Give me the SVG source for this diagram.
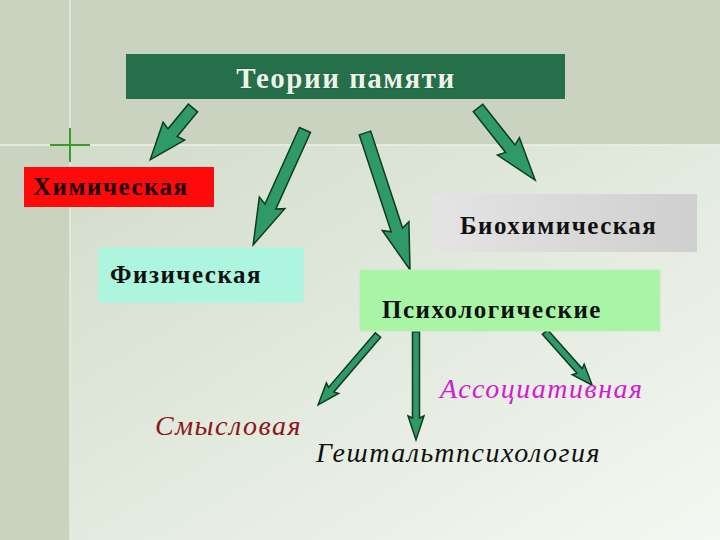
<svg xmlns="http://www.w3.org/2000/svg" width="720" height="540" viewBox="0 0 720 540">
<defs>
<linearGradient id="bg2" x1="0" y1="0" x2="1" y2="1"><stop offset="0" stop-color="#d2dccb"/><stop offset="1" stop-color="#f4f8f2"/></linearGradient>
<linearGradient id="bio" x1="0" y1="0" x2="1" y2="0"><stop offset="0" stop-color="#e4e4e4"/><stop offset="1" stop-color="#cfcfcf"/></linearGradient>
<style>
.arr{fill:#2f9a68;stroke:#0d3b20;stroke-width:1.5;stroke-linejoin:miter}
.t{font-family:"Liberation Serif",serif}
.b{font-weight:bold;font-size:25px;letter-spacing:1.5px}
.i{font-style:italic;font-size:28px;letter-spacing:1.5px}
.h{font-weight:bold;font-size:29px;letter-spacing:1.5px}
</style>
</defs>
<rect width="720" height="540" fill="#c9d3c0"/>
<rect x="70" y="145" width="650" height="395" fill="url(#bg2)"/>
<line x1="70" y1="0" x2="70" y2="540" stroke="#e6ece0" stroke-width="1.5"/>
<line x1="0" y1="145" x2="720" y2="145" stroke="#eef2ea" stroke-width="1.5"/>
<line x1="50" y1="145" x2="90" y2="145" stroke="#3a9a2a" stroke-width="2"/>
<line x1="70" y1="128" x2="70" y2="162" stroke="#3a9a2a" stroke-width="2"/>
<g id="connectors">
<polygon class="arr" transform="translate(193,108) rotate(129.6)" points="0,-6 32,-6 30,-14 67,0 30,14 32,6 0,6"/>
<polygon class="arr" transform="translate(305,130) rotate(114.3)" points="0,-6 84,-6 80,-14 126,0 80,14 84,6 0,6"/>
<polygon class="arr" transform="translate(365,133) rotate(71.8)" points="0,-6 102,-6 98,-14 144,0 98,14 102,6 0,6"/>
<polygon class="arr" transform="translate(478,108) rotate(51.6)" points="0,-6 52,-6 49,-14 92,0 49,14 52,6 0,6"/>
<polygon class="arr" transform="translate(378,335) rotate(130.6)" points="0,-3.5 72,-3.5 70,-8 92,0 70,8 72,3.5 0,3.5"/>
<polygon class="arr" transform="translate(416,332) rotate(90)" points="0,-3.5 86,-3.5 84,-8 108,0 84,8 86,3.5 0,3.5"/>
<polygon class="arr" transform="translate(545,332) rotate(48.4)" points="0,-3.5 52,-3.5 50,-8 71,0 50,8 52,3.5 0,3.5"/>
</g>
<g id="title">
<rect x="126" y="54" width="439" height="45" fill="#25704a"/>
<text x="346" y="88" text-anchor="middle" class="t h" fill="#eef3ea" style="paint-order:stroke" stroke="#1a4a30" stroke-width="0.5">Теории памяти</text>
</g>
<g id="chem">
<rect x="24" y="167" width="190" height="40" fill="#ff0a0a"/>
<text x="33" y="195" class="t b" fill="#200000">Химическая</text>
</g>
<g id="bio-node">
<rect x="432" y="194" width="265" height="58" fill="url(#bio)"/>
<text x="460" y="234" class="t b" fill="#111">Биохимическая</text>
</g>
<g id="phys">
<rect x="98" y="247" width="206" height="56" fill="#aef5df" stroke="#cfe8d8"/>
<text x="110" y="283" class="t b" fill="#111">Физическая</text>
</g>
<g id="psych">
<rect x="360" y="270" width="300" height="61" fill="#a8f5a6" stroke="#c8e8c0"/>
<text x="382" y="318" class="t b" fill="#111">Психологические</text>
</g>
<g id="sense"><text x="155" y="435" class="t i" fill="#8b1818">Смысловая</text></g>
<g id="assoc"><text x="440" y="398" class="t i" fill="#d21cd2">Ассоциативная</text></g>
<g id="gestalt"><text x="316" y="462" class="t i" fill="#111">Гештальтпсихология</text></g>
</svg>
